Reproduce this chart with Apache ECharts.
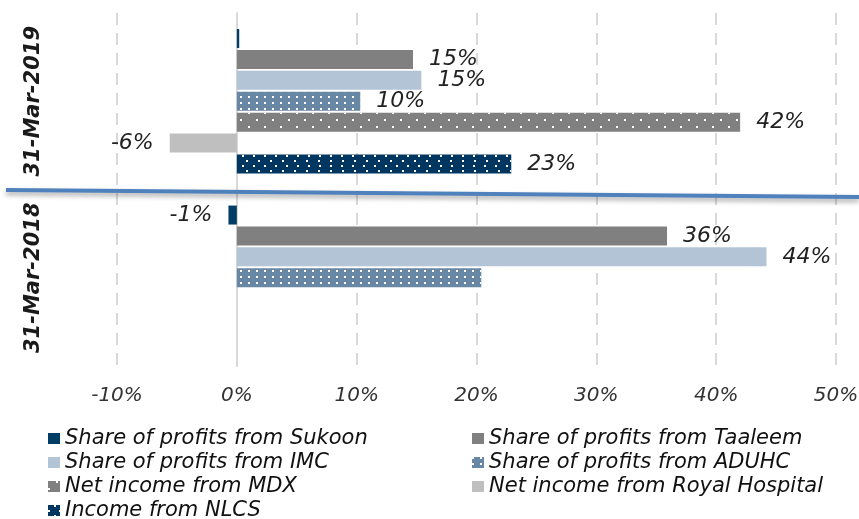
<!DOCTYPE html>
<html>
<head>
<meta charset="utf-8">
<script src="https://cdn.jsdelivr.net/npm/echarts@6/dist/echarts.min.js"></script>
<style>
  html, body { margin: 0; padding: 0; background: #fff; }
  #chart { width: 859px; height: 519px; }
</style>
</head>
<body>
<div id="chart"></div>
<script>
// categories (top to bottom)
var periods = ['31-Mar-2019', '31-Mar-2018'];

// values in percent
var sukoon = [0.2, -0.7];
var taaleem = [14.7, 35.9];
var imc = [15.4, 44.2];
var aduhc = [10.3, 20.4];
var mdx = [42.0, null];
var royalHospital = [-5.6, null];
var nlcs = [22.9, null];

var seriesNames = [
    'Share of profits from Sukoon',
    'Share of profits from Taaleem',
    'Share of profits from IMC',
    'Share of profits from ADUHC',
    'Net income from MDX',
    'Net income from Royal Hospital',
    'Income from NLCS'
];
var seriesValues = [sukoon, taaleem, imc, aduhc, mdx, royalHospital, nlcs];

// [series index, period index] whose value label is not shown
var noLabel = [[0, 0], [3, 1]];

var xTicks = [-10, 50, 10]; // min, max, interval

var FONT = 'DejaVu Sans';
var colors = ['#023d65', '#808080', '#b3c4d7', '#6887a4', '#808080', '#bfbfbf', '#00365f'];

// dotted fills
var decals = [
    null,
    null,
    null,
    { symbol: 'rect', symbolSize: 1, color: '#ffffff', dashArrayX: [2, 5.5], dashArrayY: [2, 4] },
    { symbol: 'rect', symbolSize: 1, color: '#ffffff', dashArrayX: [[2, 14], [0, 8, 2, 6]], dashArrayY: [2, 4.5] },
    null,
    { symbol: 'rect', symbolSize: 1, color: '#ffffff', dashArrayX: [[2, 9], [0, 5.5, 2, 3.5]], dashArrayY: [2, 2.6] }
];

var series = seriesNames.map(function (name, i) {
    var data = seriesValues[i].map(function (v, j) {
        var hide = noLabel.some(function (p) { return p[0] === i && p[1] === j; });
        if (v === null) return '-';
        var item = { value: v };
        if (hide) item.label = { show: false };
        else item.label = { position: v < 0 ? 'left' : 'right' };
        return item;
    });
    var itemStyle = { color: colors[i] };
    if (decals[i]) itemStyle.decal = decals[i];
    return {
        name: name,
        type: 'bar',
        barWidth: 19,
        barGap: '10%',
        data: data,
        itemStyle: itemStyle,
        label: {
            show: true,
            distance: 16,
            fontFamily: FONT,
            fontStyle: 'italic',
            fontSize: 22,
            color: '#222',
            formatter: function (p) { return Math.round(p.value) + '%'; }
        }
    };
});

var legendText = { fontFamily: FONT, fontStyle: 'italic', fontSize: 21, color: '#111' };

var chart = echarts.init(document.getElementById('chart'));
var option = {
    animation: false,
    title: {
        text: 'Net Income From Investments',
        left: 160,
        top: -22,
        padding: 0,
        textStyle: { fontFamily: FONT, fontWeight: 'bold', fontSize: 29, color: '#1a1a1a' }
    },
    grid: { left: 117, right: 23, top: 13, bottom: 153, containLabel: false, outerBoundsMode: 'none' },
    xAxis: {
        type: 'value',
        min: xTicks[0],
        max: xTicks[1],
        interval: xTicks[2],
        axisLine: { show: false },
        axisTick: { show: false },
        splitLine: { show: true, lineStyle: { color: '#d9d9d9', width: 2, type: [12, 8] } },
        axisLabel: {
            margin: 20,
            formatter: '{value}%',
            fontFamily: FONT,
            fontStyle: 'italic',
            fontSize: 20,
            color: '#333'
        }
    },
    yAxis: {
        type: 'category',
        inverse: true,
        data: periods,
        axisLine: { show: true, onZero: true, lineStyle: { color: '#d9d9d9', width: 2 } },
        axisTick: { show: false },
        axisLabel: {
            interval: 0,
            hideOverlap: false,
            rotate: 90,
            margin: 73,
            fontFamily: FONT,
            fontStyle: 'italic',
            fontWeight: 'bold',
            fontSize: 21,
            color: '#1a1a1a'
        }
    },
    legend: [
        {
            orient: 'vertical',
            left: 48,
            top: 428,
            height: 110,
            padding: 0,
            itemGap: 3,
            itemWidth: 12,
            itemHeight: 11,
            icon: 'rect',
            data: [seriesNames[0], seriesNames[2], seriesNames[4], seriesNames[6]],
            textStyle: legendText
        },
        {
            orient: 'vertical',
            left: 472,
            top: 428,
            height: 110,
            padding: 0,
            itemGap: 3,
            itemWidth: 12,
            itemHeight: 11,
            icon: 'rect',
            data: [seriesNames[1], seriesNames[3], seriesNames[5]],
            textStyle: legendText
        }
    ],
    graphic: [
        {
            // separator between the two periods
            type: 'line',
            shape: { x1: 6, y1: 190, x2: 859, y2: 197 },
            style: {
                stroke: '#4f81bd',
                lineWidth: 4,
                shadowBlur: 5,
                shadowOffsetY: 3,
                shadowColor: 'rgba(0,0,0,0.35)'
            },
            z: 100
        }
    ],
    series: series
};
chart.setOption(option);
</script>
</body>
</html>
